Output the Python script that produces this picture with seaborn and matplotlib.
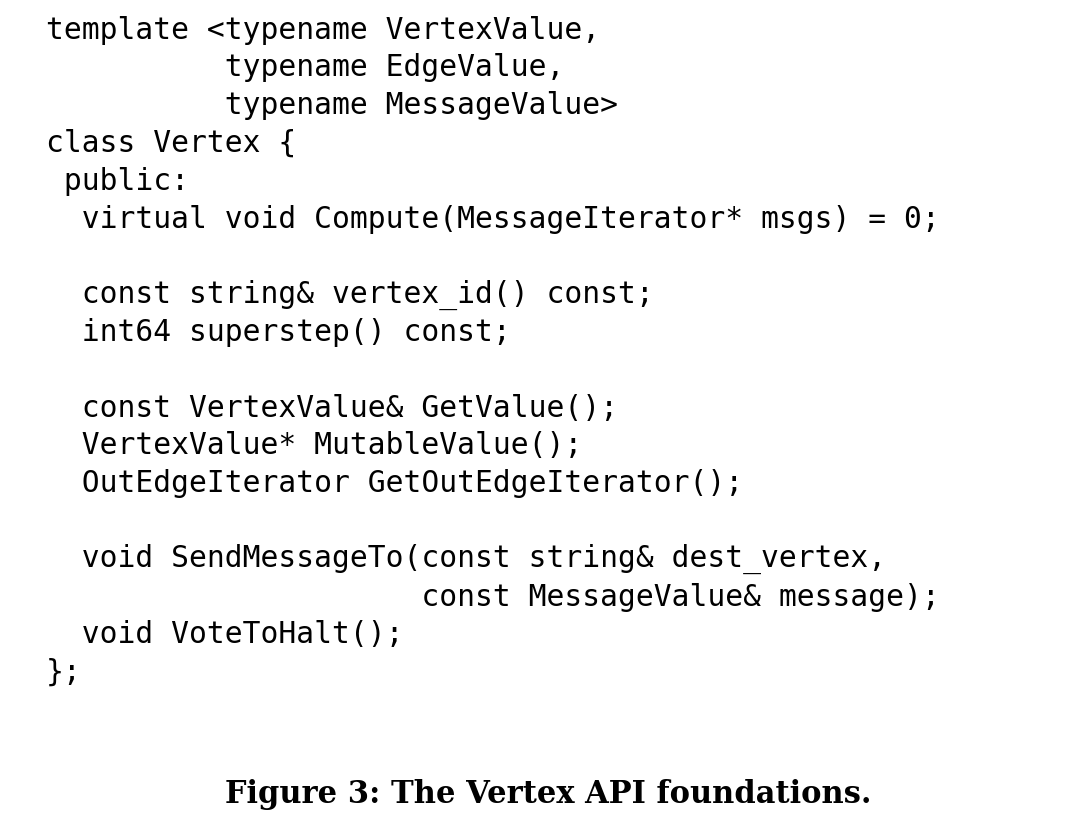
import matplotlib
matplotlib.use("Agg")
import matplotlib.pyplot as plt
import seaborn as sns

sns.set_theme(style="white")

code_lines = [
    "template <typename VertexValue,",
    "          typename EdgeValue,",
    "          typename MessageValue>",
    "class Vertex {",
    " public:",
    "  virtual void Compute(MessageIterator* msgs) = 0;",
    "",
    "  const string& vertex_id() const;",
    "  int64 superstep() const;",
    "",
    "  const VertexValue& GetValue();",
    "  VertexValue* MutableValue();",
    "  OutEdgeIterator GetOutEdgeIterator();",
    "",
    "  void SendMessageTo(const string& dest_vertex,",
    "                     const MessageValue& message);",
    "  void VoteToHalt();",
    "};",
]
caption = "Figure 3: The Vertex API foundations."

W, H = 1086, 824
fig = plt.figure(figsize=(W / 100, H / 100), dpi=100)
ax = fig.add_axes([0, 0, 1, 1])
ax.set_xlim(0, W)
ax.set_ylim(H, 0)
ax.axis("off")

for i, line in enumerate(code_lines):
    ax.text(46, 30 + i * 37.8, line, family="DejaVu Sans Mono", fontsize=21.3,
            ha="left", va="center", color="black")

ax.text(548, 795, caption, family="DejaVu Serif", fontweight="bold",
        fontsize=22, ha="center", va="center", color="black")

fig.savefig("out.png", dpi=100, facecolor="white")
